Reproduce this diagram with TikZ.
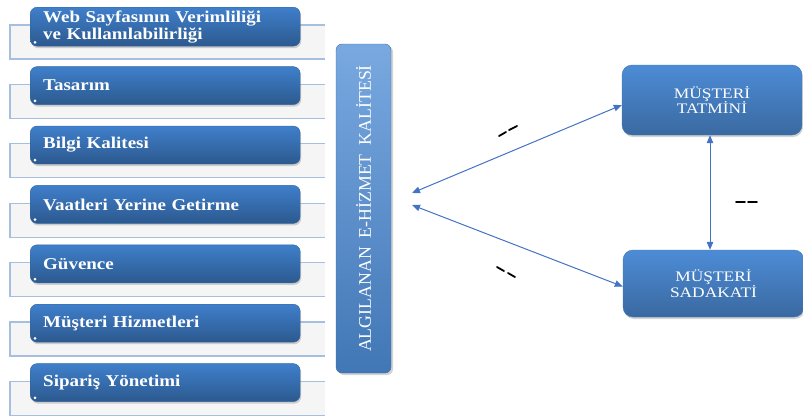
\documentclass[tikz,border=0pt]{standalone}
\usepackage{fontspec}
\setmainfont{Liberation Serif}
\newfontfamily\itemfont{Liberation Serif}[FakeStretch=1.15]
\newfontfamily\widefont{Liberation Serif}[FakeStretch=1.2]
\usetikzlibrary{arrows.meta,shadows}

\definecolor{linkblue}{HTML}{4472C4}
\definecolor{backline}{HTML}{A7BFDF}
\definecolor{backfill}{HTML}{F5F5F5}

\tikzset{
  itembox/.style={rounded corners=7pt, top color=#1, bottom color=#1!70!black,
    draw=#1!80!black, text=white, align=left, text width=244pt, inner xsep=13pt,
    minimum height=38pt, font=\itemfont\bfseries\fontsize{16.5}{17}\selectfont,
    drop shadow={shadow xshift=1pt, shadow yshift=-2pt, opacity=0.35}},
  bluebox/.style={rounded corners=10pt, top color=#1, bottom color=#1!75!black,
    draw=#1!85!black, text=white, align=center,
    font=\widefont\fontsize{14.5}{15.5}\selectfont,
    drop shadow={shadow xshift=1pt, shadow yshift=-2pt, opacity=0.35}},
  backbox/.style={fill=backfill, draw=backline, line width=1.2pt},
  link/.style={draw=linkblue, line width=1pt,
    {Triangle[length=8pt,width=6.5pt]}-{Triangle[length=8pt,width=6.5pt]}},
  blot/.style={line width=1.8pt, line cap=round}
}

\begin{document}
\begin{tikzpicture}[x=1pt,y=-1pt]
\useasboundingbox (0,0) rectangle (803,416);
\definecolor{itemblue}{HTML}{3F7FCB}
\definecolor{sideblue}{HTML}{4D8CD6}

% dimension list
\foreach \txt [count=\i] in {{Web Sayfasının Verimliliği\\ve Kullanılabilirliği},
    Tasarım, Bilgi Kalitesi, Vaatleri Yerine Getirme, Güvence,
    Müşteri Hizmetleri, Sipariş Yönetimi}
{
  \pgfmathsetmacro\t{7+59.4*(\i-1)}
  \path[backbox] (325,\t+18) -| (10,\t+52) -- (325,\t+52);
  \node[itembox=itemblue, anchor=north west] (item\i) at (30,\t) {\txt};
  \fill[white] ([shift={(5pt,4pt)}]item\i.south west) circle (1.5pt);
}

% perceived quality
\node[rounded corners=6pt, top color=sideblue!75!white, bottom color=sideblue!85!black,
  draw=sideblue!80!black, rotate=90, minimum width=329pt, minimum height=55pt,
  text=white, font=\fontsize{17.8}{20}\selectfont,
  drop shadow={shadow xshift=2pt, shadow yshift=-2pt, opacity=0.35}]
  (quality) at (363.5,208.5) {ALGILANAN\ \ E-HİZMET\ \ KALİTESİ};

\node[bluebox=sideblue, minimum width=180pt, minimum height=70pt] (tatmin) at (712,100)
  {MÜŞTERİ\\TATMİNİ};
\node[bluebox=sideblue, minimum width=181pt, minimum height=67pt] (sadakat) at (713.5,283.5)
  {MÜŞTERİ\\SADAKATİ};

\coordinate (q1) at (412,193);
\coordinate (q2) at (412,205);

\draw[link] (q1) -- ([yshift=-5pt]tatmin.west);
\draw[link] (q2) -- ([yshift=-3pt]sadakat.west);
\draw[link] ([xshift=-2pt]tatmin.south) -- ([xshift=-2pt]tatmin.south |- sadakat.north);

% stray marks
\draw[blot] (499,136) -- (506,132) (509,130) -- (517,126);
\draw[blot] (736,202) -- (745,202) (748,202) -- (757,202);
\draw[blot] (497,267) -- (504,271) (508,273) -- (515,277);
\end{tikzpicture}
\end{document}
